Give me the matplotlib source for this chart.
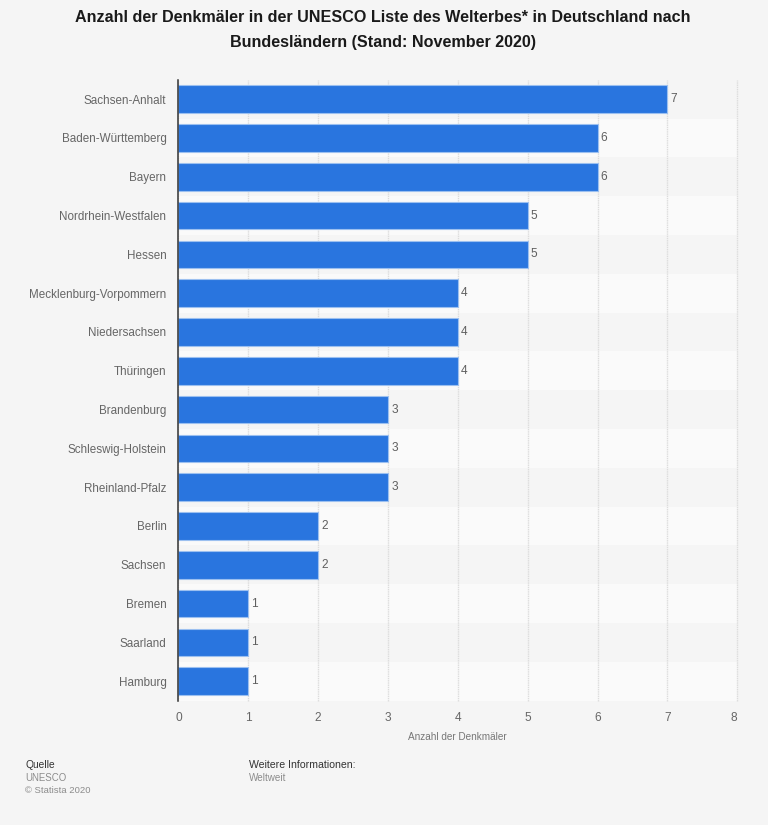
import numpy as np
import matplotlib
matplotlib.use("Agg")
import matplotlib.pyplot as plt

plt.rcParams['font.family'] = ['Liberation Sans', 'DejaVu Sans']

states = ["Sachsen-Anhalt", "Baden-Württemberg", "Bayern", "Nordrhein-Westfalen", "Hessen",
          "Mecklenburg-Vorpommern", "Niedersachsen", "Thüringen", "Brandenburg",
          "Schleswig-Holstein", "Rheinland-Pfalz", "Berlin", "Sachsen", "Bremen",
          "Saarland", "Hamburg"]
counts = [7, 6, 6, 5, 5, 4, 4, 4, 3, 3, 3, 2, 2, 1, 1, 1]
x_ticks = [0, 1, 2, 3, 4, 5, 6, 7, 8]

W, H = 768, 825
BG = "#f5f5f5"
BAR = "#2975df"

fig = plt.figure(figsize=(W / 100, H / 100), dpi=100, facecolor=BG)
# Achsenbereich in Pixeln
left, right, top, bottom = 178.4, 737.2, 79.8, 700.6
ax = fig.add_axes([left / W, 1 - bottom / H, (right - left) / W, (bottom - top) / H], facecolor=BG)

y = np.arange(len(states))
for i in y:
    if i % 2 == 1:
        ax.axhspan(i - 0.5, i + 0.5, color="#fafafa", lw=0, zorder=0)

ax.barh(y, counts, height=0.71, color=BAR, edgecolor="#9cc0f0", linewidth=0.8, zorder=3)
for i, c in zip(y, counts):
    ax.text(c + 0.045, i, str(c), va="center", ha="left", fontsize=8.6, color="#5f5f5f", zorder=4)

ax.set_xlim(0, 8)
ax.set_ylim(len(states) - 0.5, -0.5)
ax.set_xticks(x_ticks)
ax.xaxis.grid(True, color="#dcdcdc", linewidth=1.0, linestyle=(0, (1, 0.6)), zorder=1, clip_on=False)
ax.set_axisbelow(True)
ax.set_yticks(y)
ax.set_yticklabels(states, fontsize=8.35, color="#666666")
for lab in ax.get_yticklabels():
    lab.set_y(lab.get_position()[1])
    lab.set_verticalalignment("center_baseline")
ax.tick_params(axis="y", length=0, pad=8.6)
ax.tick_params(axis="x", length=0, pad=8.0, labelsize=8.6, labelcolor="#666666")
ax.get_xticklabels()[-1].set_horizontalalignment("right")

for s in ["top", "right", "bottom"]:
    ax.spines[s].set_visible(False)
ax.spines["left"].set_color("#333333")
ax.spines["left"].set_linewidth(1.1)
ax.spines["left"].set_zorder(5)

fig.text(457.5 / W, 1 - 737 / H, "Anzahl der Denkmäler", ha="center", va="center", fontsize=7.2, color="#777777")

fig.text(383 / W, 1 - 17.5 / H, "Anzahl der Denkmäler in der UNESCO Liste des Welterbes* in Deutschland nach",
         ha="center", va="center", fontsize=11.65, fontweight="bold", color="#1a1a1a")
fig.text(383 / W, 1 - 42.3 / H, "Bundesländern (Stand: November 2020)",
         ha="center", va="center", fontsize=11.65, fontweight="bold", color="#1a1a1a")

fig.text(25 / W, 1 - 765.5 / H, "Quelle", ha="left", va="center", fontsize=7.4, color="#333333")
fig.text(25 / W, 1 - 778 / H, "UNESCO", ha="left", va="center", fontsize=6.9, color="#8c8c8c")
fig.text(25 / W, 1 - 790.5 / H, "© Statista 2020", ha="left", va="center", fontsize=6.8, color="#8c8c8c")
fig.text(249 / W, 1 - 765.5 / H, "Weitere Informationen:", ha="left", va="center", fontsize=7.6, color="#333333")
fig.text(249 / W, 1 - 778 / H, "Weltweit", ha="left", va="center", fontsize=7.1, color="#8c8c8c")

fig.savefig("out.png", dpi=100, facecolor=BG)
